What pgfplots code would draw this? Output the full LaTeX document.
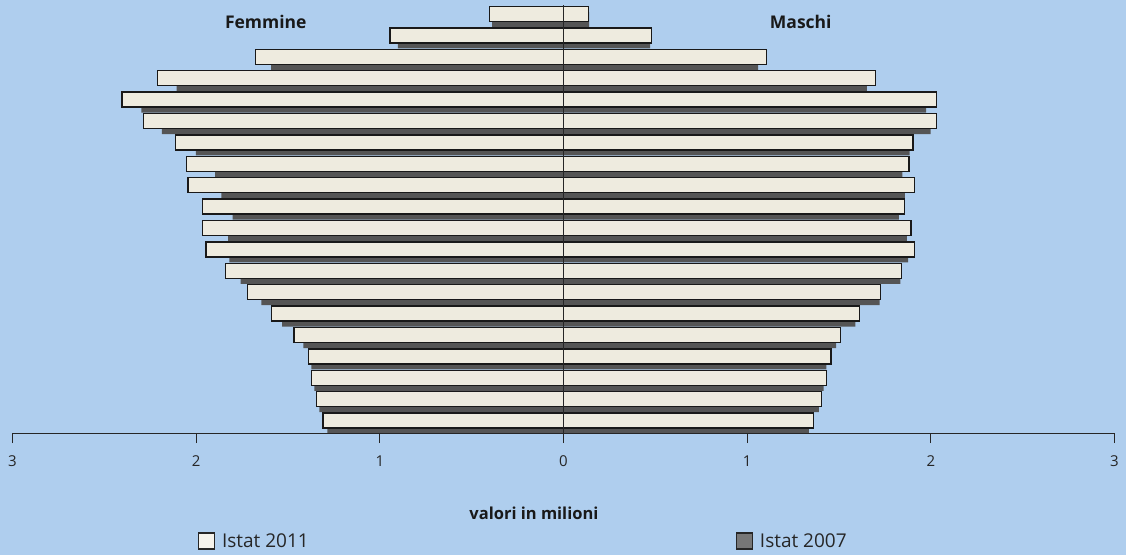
\documentclass[border=0pt]{standalone}
\usepackage{fontspec}
\setmainfont{Open Sans}
\usepackage{pgfplots}
\usepackage{pgfplotstable}
\pgfplotsset{compat=1.18}
\definecolor{bg}{RGB}{175,206,238}
\definecolor{lightbar}{RGB}{238,235,223}
\definecolor{darkbar}{RGB}{85,85,85}

% y = age class index (0 = youngest, bottom)
\pgfplotstableread{
y  m11    m07    f11     f07
0  1.362  1.336  -1.309  -1.285
1  1.405  1.391  -1.345  -1.329
2  1.431  1.416  -1.371  -1.356
3  1.456  1.431  -1.387  -1.373
4  1.510  1.485  -1.467  -1.416
5  1.612  1.590  -1.589  -1.532
6  1.728  1.721  -1.719  -1.645
7  1.841  1.834  -1.841  -1.758
8  1.910  1.877  -1.946  -1.819
9  1.892  1.870  -1.965  -1.826
10 1.857  1.826  -1.965  -1.801
11 1.910  1.859  -2.044  -1.863
12 1.881  1.845  -2.052  -1.897
13 1.903  1.885  -2.113  -2.001
14 2.033  1.999  -2.288  -2.186
15 2.033  1.975  -2.404  -2.298
16 1.699  1.652  -2.210  -2.106
17 1.107  1.060  -1.678  -1.592
18 0.479  0.472  -0.944  -0.902
19 0.138  0.140  -0.403  -0.388
}\pyr

\begin{document}
\begin{tikzpicture}
\fill[bg] (0pt,0pt) rectangle (1126pt,555pt);
\begin{axis}[
  at={(12.5pt,122pt)}, anchor=south west,
  scale only axis, width=1102pt, height=428pt,
  xmin=-3, xmax=3, ymin=-0.46, ymax=19.54,
  axis x line=bottom, axis y line=center,
  axis line style={-, black!85, line width=1pt},
  axis on top,
  ytick=\empty,
  xtick={-3,-2,-1,0,1,2,3},
  xticklabels={3,2,1,0,1,2,3},
  tick align=outside,
  major tick length=10pt,
  tick style={black!85, line width=1pt},
  xticklabel style={font=\fontsize{15}{18}\selectfont, text=black!85, yshift=-9pt},
  xlabel={valori in milioni},
  xlabel style={at={(axis description cs:0.4732,-0.187)}, anchor=center,
    font=\bfseries\fontsize{16.5}{20}\selectfont, text=black!90},
  clip=false,
  legend columns=2,
  legend style={at={(axis description cs:0.168,-0.2523)}, anchor=west,
    draw=none, fill=none, inner sep=0pt, nodes={inner sep=1pt},
    font=\fontsize{19}{22}\selectfont, text=black!85,
    /tikz/every even column/.append style={column sep=426pt}},
  legend image code/.code={\draw[#1] (0pt,-8pt) rectangle (16pt,8pt); \path (22pt,0pt);},
]
\addplot[xbar, bar width=0.7, bar shift=-0.14, fill=darkbar, draw=none, forget plot]
  table[x=m07, y=y] {\pyr};
\addplot[xbar, bar width=0.7, bar shift=-0.14, fill=darkbar, draw=none, forget plot]
  table[x=f07, y=y] {\pyr};
\addplot[xbar, bar width=0.7, bar shift=0.12, fill=lightbar, draw=black!90, line width=1.3pt, forget plot]
  table[x=m11, y=y] {\pyr};
\addplot[xbar, bar width=0.7, bar shift=0.12, fill=lightbar, draw=black!90, line width=1.3pt, forget plot]
  table[x=f11, y=y] {\pyr};
\addlegendimage{fill=lightbar!60!white, draw=black!85, line width=1.2pt}
\addlegendentry{Istat 2011}
\addlegendimage{fill=darkbar!80!white, draw=black!85, line width=1.2pt}
\addlegendentry{Istat 2007}
\node[font=\bfseries\fontsize{17.5}{21}\selectfont, text=black!90] at (axis cs:-1.621,18.74) {Femmine};
\node[font=\bfseries\fontsize{17.5}{21}\selectfont, text=black!90] at (axis cs:1.292,18.74) {Maschi};
\end{axis}
\end{tikzpicture}
\end{document}
